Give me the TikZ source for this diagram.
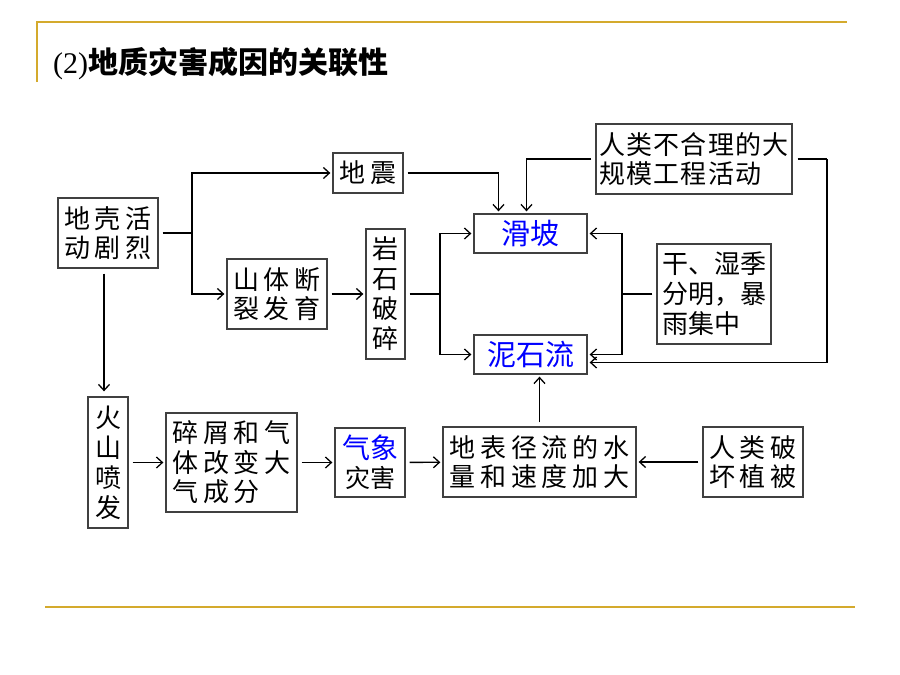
\documentclass[tikz,border=0pt]{standalone}
\usepackage{fontspec}
\setmainfont{Liberation Serif}
\newfontfamily\cjk{Noto Sans CJK SC}
\newfontfamily\cjkmid[LetterSpace=5]{Noto Sans CJK SC}
\newfontfamily\cjkwide[LetterSpace=18]{Noto Sans CJK SC}
\usetikzlibrary{arrows.meta}
\definecolor{slidegold}{RGB}{212,170,45}

\tikzset{
  box/.style={draw=black!75, line width=1.3pt, inner sep=0pt, align=left,
    font=\cjkwide\fontsize{26}{29.5}\selectfont},
  colbox/.style={box, align=center, font=\cjk\fontsize{26}{30}\selectfont},
  hazard/.style={box, align=center, text=blue, font=\cjk\fontsize{29}{32}\selectfont},
  ln/.style={line width=1.3pt},
  arr/.style={-{Straight Barb[length=6pt,width=11pt]}, line width=1.3pt, shorten >=2pt},
}

\begin{document}
\begin{tikzpicture}[x=1pt,y=-1pt]
\useasboundingbox (0,0) rectangle (900,675);
% slide frame
\draw[slidegold, line width=2pt] (37,82) -- (37,22) -- (847,22);
\draw[slidegold, line width=2pt] (45,607) -- (855,607);
\node[anchor=west, inner sep=0pt, font=\fontsize{30}{34}\selectfont] (title) at (53,64)
  {(2){\cjk\bfseries 地质灾害成因的关联性}};

% boxes
\node[box, minimum width=100pt, minimum height=70pt] (diqiao) at (108,233) {地壳活\\动剧烈};
\node[box, minimum width=70pt, minimum height=40pt] (dizhen) at (368,173) {地震};
\node[box, minimum width=100pt, minimum height=70pt] (shanti) at (277,294) {山体断\\裂发育};
\node[colbox, minimum width=39pt, minimum height=130pt] (yanshi) at (385.5,294) {岩\\石\\破\\碎};
\node[hazard, minimum width=113pt, minimum height=39pt] (huapo) at (530.5,233.5) {\raisebox{-6pt}{滑坡}};
\node[hazard, minimum width=113pt, minimum height=39pt] (nishiliu) at (530.5,354.5) {\raisebox{-5pt}{泥石流}};
\node[box, minimum width=196pt, minimum height=70pt, font=\cjkmid\fontsize{26}{29.5}\selectfont] (renlei) at (694,159) {人类不合理的大\\规模工程活动};
\node[box, minimum width=114pt, minimum height=100pt, font=\cjk\fontsize{26}{30}\selectfont] (ganshi) at (714,294) {干、湿季\\分明，暴\\雨集中};
\node[colbox, minimum width=40pt, minimum height=131pt] (huoshan) at (108,462.5) {火\\山\\喷\\发};
\node[box, minimum width=131pt, minimum height=99pt] (suixie) at (231.5,462.5) {碎屑和气\\体改变大\\气成分};
\node[colbox, minimum width=70pt, minimum height=69pt, font=\cjk\fontsize{25}{29}\selectfont] (qixiang) at (370,462.5) {{\color{blue}\fontsize{28}{29}\selectfont 气象}\\灾害};
\node[box, minimum width=193pt, minimum height=70pt] (dibiao) at (539.5,462) {地表径流的水\\量和速度加大};
\node[box, minimum width=100pt, minimum height=70pt] (pohuai) at (753,462) {人类破\\坏植被};

% connectors
\coordinate (fork1) at (192,233);
\coordinate (fork2) at (440,294);
\coordinate (fork3) at (622,294);
\coordinate (loopr) at (827,159);
\draw[ln, shorten <=4pt] (diqiao) -- (fork1);
\draw[arr] (fork1) |- (dizhen);
\draw[arr] (fork1) |- (shanti);
\draw[arr, shorten <=4pt] (shanti) -- (yanshi);
\draw[ln, shorten <=4pt] (yanshi) -- (fork2);
\draw[arr] (fork2) |- (huapo);
\draw[arr] (fork2) |- (nishiliu);
\draw[arr, shorten <=4pt] (dizhen) -| ([xshift=-32pt]huapo.north);
\draw[arr, shorten <=4pt] (renlei) -| ([xshift=-4pt]huapo.north);
\draw[ln, shorten <=5pt] (renlei) -- (loopr);
\draw[arr] (loopr) |- ([yshift=-8pt]nishiliu.east);
\draw[ln, shorten <=4pt] (ganshi) -- (fork3);
\draw[arr] (fork3) |- (huapo);
\draw[arr] (fork3) |- (nishiliu);
\draw[arr, shorten <=5pt, shorten >=5pt] ([xshift=-4pt]diqiao.south) -- ([xshift=-4pt]huoshan.north);
\draw[arr, shorten <=4pt] (huoshan) -- (suixie);
\draw[arr, shorten <=4pt] (suixie) -- (qixiang);
\draw[arr, shorten <=4pt] (qixiang) -- (dibiao);
\draw[arr, shorten <=4pt] (pohuai) -- (dibiao);
\draw[arr, shorten <=4pt] (dibiao.north) -- (dibiao.north |- nishiliu.south);
\end{tikzpicture}
\end{document}
